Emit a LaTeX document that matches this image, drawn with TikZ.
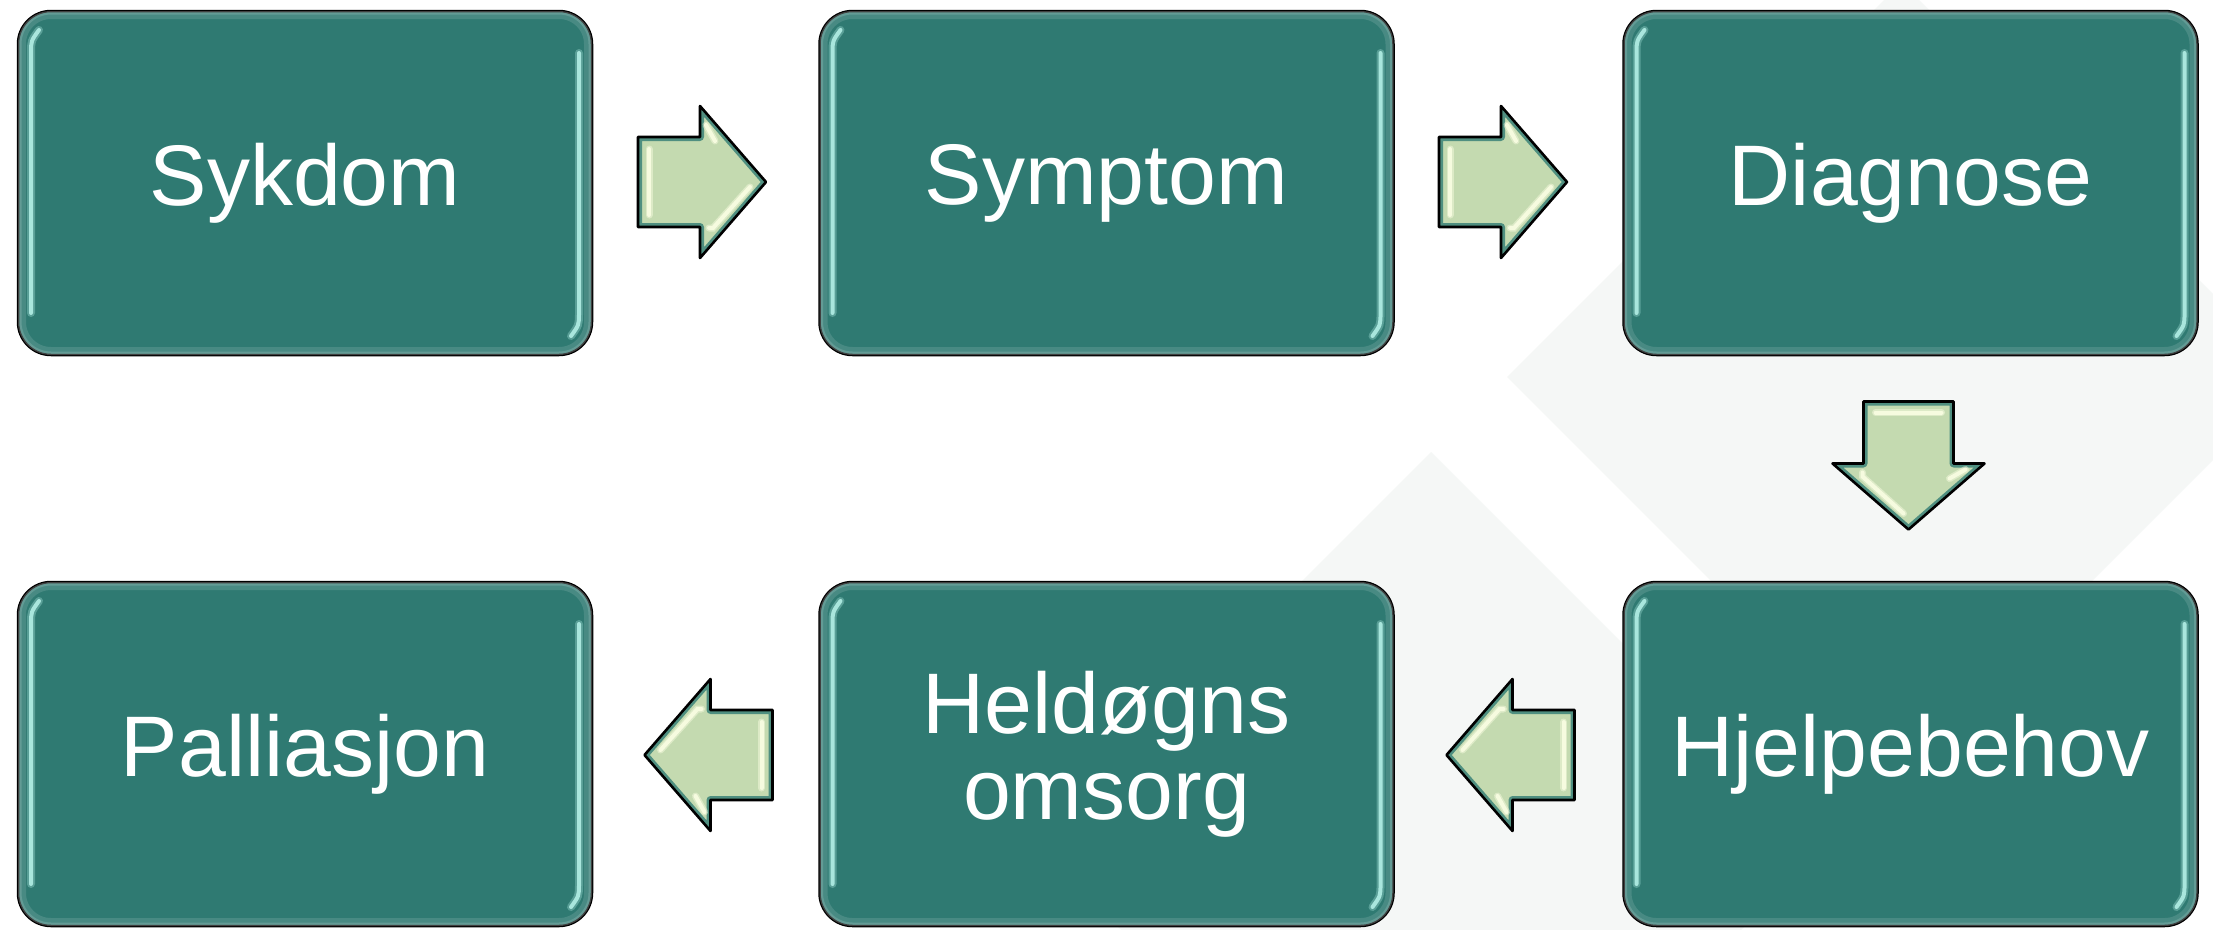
\documentclass[tikz,border=0pt]{standalone}
\usepackage{fontspec}
\setmainfont{Liberation Sans}
\definecolor{boxteal}{HTML}{2F7A72}
\definecolor{boxshine}{HTML}{A9E6DD}
\definecolor{bggrey}{HTML}{F5F7F6}
\definecolor{arrowfill}{HTML}{C4DAB0}
\definecolor{arrowrim}{HTML}{4F8F80}
\definecolor{arrowshine}{HTML}{F6FBDF}
\tikzset{
  stage/.style={draw=black, line width=2.5pt, fill=boxteal, rounded corners=33pt,
    text=white, font=\fontsize{86}{86}\selectfont, align=center, inner sep=0pt,
    outer sep=0pt, minimum width=574pt, minimum height=344pt},
  arrowshape/.style={insert path={(-64,-45) -- (-2,-45) -- (-2,-76) -- (64,0) -- (-2,76) -- (-2,45) -- (-64,45) -- cycle}},
  shinestroke/.style={draw=boxshine, line width=4pt, line cap=round},
  arrowstreak/.style={draw=arrowshine, line width=4pt, line cap=round},
}
\newcommand\stageshine[1]{%
  \begin{scope}
    \clip[rounded corners=33pt] (#1.north west) rectangle (#1.south east);
    \draw[white, opacity=.12, line width=16pt, rounded corners=33pt] (#1.north west) rectangle (#1.south east);
    \draw[white, opacity=.15, line width=7pt, rounded corners=33pt] (#1.north west) rectangle (#1.south east);
  \end{scope}
  \draw[shinestroke, opacity=.35, line width=8pt] ([shift={(13,-42)}]#1.south west) -- ([shift={(13,42)}]#1.north west)
     .. controls ([shift={(13,30)}]#1.north west) .. ([shift={(21,19)}]#1.north west);
  \draw[shinestroke] ([shift={(13,-42)}]#1.south west) -- ([shift={(13,42)}]#1.north west)
     .. controls ([shift={(13,30)}]#1.north west) .. ([shift={(21,19)}]#1.north west);
  \draw[shinestroke, opacity=.35, line width=8pt] ([shift={(-13,42)}]#1.north east) -- ([shift={(-13,-42)}]#1.south east)
     .. controls ([shift={(-13,-30)}]#1.south east) .. ([shift={(-21,-19)}]#1.south east);
  \draw[shinestroke] ([shift={(-13,42)}]#1.north east) -- ([shift={(-13,-42)}]#1.south east)
     .. controls ([shift={(-13,-30)}]#1.south east) .. ([shift={(-21,-19)}]#1.south east);
}
\newcommand\flowarrow[4]{%
  \begin{scope}[shift={(#2,#3)}, rotate=#4]
    \coordinate (#1) at (0,0);
    \path[fill=arrowfill, arrowshape];
    \begin{scope}
      \clip[arrowshape];
      \draw[arrowrim, line width=8pt, line join=round, arrowshape];
    \end{scope}
    \draw[arrowstreak, opacity=.5, line width=7pt] (-53,-33) -- (-53,33);
    \draw[arrowstreak] (-53,-33) -- (-53,33);
    \draw[arrowstreak, opacity=.5, line width=7pt] (4,-57) -- (13,-41);
    \draw[arrowstreak] (4,-57) -- (13,-41);
    \draw[arrowstreak, opacity=.5, line width=7pt] (48,5) -- (11,46) -- (7,46);
    \draw[arrowstreak] (48,5) -- (11,46) -- (7,46);
    \draw[black, line width=2.6pt, line join=round, arrowshape];
  \end{scope}}
\begin{document}
\begin{tikzpicture}[x=1pt,y=-1pt]
  \useasboundingbox (0,0) rectangle (2213,929);
  \fill[white] (0,0) rectangle (2213,929);
  \begin{scope}
    \clip (0,0) rectangle (2213,929);
    \fill[bggrey] (1507,377) -- (1901.5,-17.5) -- (2296,377) -- (1901.5,771.5) -- cycle;
    \fill[bggrey] (1431,452) -- (1825,846) -- (1431,1240) -- (1037,846) -- cycle;
  \end{scope}
  % stages
  \node[stage] (sykdom)  at (305,183)    {Sykdom};
  \node[stage] (symptom) at (1106.5,183) {Symptom};
  \node[stage] (diagnose) at (1910.5,183) {Diagnose};
  \node[stage] (hjelp)   at (1910.5,754) {Hjelpebehov};
  \node[stage] (heldogn) at (1106.5,754) {Heldøgns\\omsorg};
  \node[stage] (pall)    at (305,754)    {Palliasjon};
  \stageshine{sykdom}
  \stageshine{symptom}
  \stageshine{diagnose}
  \stageshine{hjelp}
  \stageshine{heldogn}
  \stageshine{pall}
  % arrows
  \flowarrow{a1}{702}{182}{0}
  \flowarrow{a2}{1503}{182}{0}
  \flowarrow{a3}{1908.5}{465.5}{-90}
  \flowarrow{a4}{1510.5}{755}{180}
  \flowarrow{a5}{708.5}{755}{180}
\end{tikzpicture}
\end{document}
